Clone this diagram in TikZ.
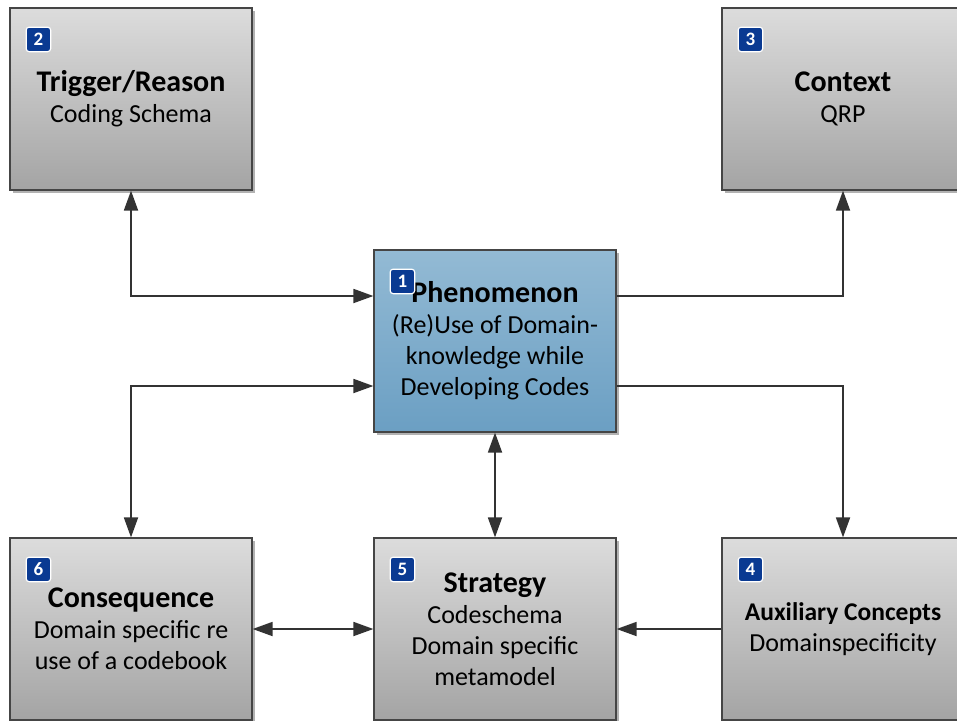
\documentclass[tikz,border=0pt]{standalone}
\usepackage{fontspec}
\setmainfont{Carlito}
\usetikzlibrary{arrows.meta,shadows,calc}
\definecolor{boxline}{HTML}{454545}
\definecolor{graytop}{HTML}{DCDCDC}
\definecolor{graybot}{HTML}{A4A4A4}
\definecolor{bluetop}{HTML}{93BAD4}
\definecolor{bluebot}{HTML}{6B9FC3}
\definecolor{badgeblue}{HTML}{0A3A92}
\definecolor{wire}{HTML}{333333}
\tikzset{
  panel/.style={draw=boxline, line width=1.2pt, minimum width=242pt,
    minimum height=182pt, inner sep=0pt, align=center,
    font=\fontsize{26}{31}\selectfont,
    drop shadow={shadow xshift=2.5pt, shadow yshift=-2.5pt, fill=black!55, opacity=.55}},
  graypanel/.style={panel, top color=graytop, bottom color=graybot},
  bluepanel/.style={panel, top color=bluetop, bottom color=bluebot},
  badge/.style={draw=white, line width=1.2pt, fill=badgeblue, rounded corners=3pt,
    minimum size=24.5pt, inner sep=0pt, text=white, font=\fontsize{19}{19}\selectfont\bfseries},
  conn/.style={draw=wire, line width=1.8pt,
    arrows={-}, >={Triangle[length=20pt,width=14pt]}},
}
\newcommand{\ttl}[1]{{\fontsize{30}{35}\selectfont\bfseries #1}}
\begin{document}
\begin{tikzpicture}[x=1pt,y=-1pt]
\useasboundingbox (0,0) rectangle (957,720);

% the six concept boxes
\node[bluepanel] (b1) at (495,341) {\ttl{Phenomenon}\\(Re)Use of Domain-\\knowledge while\\Developing Codes};
\node[graypanel] (b2) at (131,99) {\ttl{Trigger/Reason}\\Coding Schema};
\node[graypanel] (b3) at (843,99) {\ttl{Context}\\QRP};
\node[graypanel] (b4) at (843,629) {{\fontsize{25.5}{30}\selectfont\bfseries Auxiliary Concepts}\\Domainspecificity};
\node[graypanel] (b5) at (495,629) {\ttl{Strategy}\\Codeschema\\Domain specific\\metamodel};
\node[graypanel] (b6) at (131,629) {\ttl{Consequence}\\Domain specific re\\use of a codebook};

% numbered badges
\foreach \b/\n in {b1/1,b2/2,b3/3,b4/4,b5/5,b6/6}
  \node[badge] (n\n) at ($(\b.north west)+(29,32)$) {\n};

% connectors
\draw[conn,<->] (b2.south) |- ([yshift=45pt]b1.west);
\draw[conn,->] ([yshift=45pt]b1.east) -| (b3.south);
\draw[conn,<->] (b6.north) |- ([yshift=-45pt]b1.west);
\draw[conn,->] ([yshift=-45pt]b1.east) -| (b4.north);
\draw[conn,<->] (b1.south) -- (b5.north);
\draw[conn,<->] (b6.east) -- (b5.west);
\draw[conn,->] (b4.west) -- (b5.east);
\end{tikzpicture}
\end{document}
